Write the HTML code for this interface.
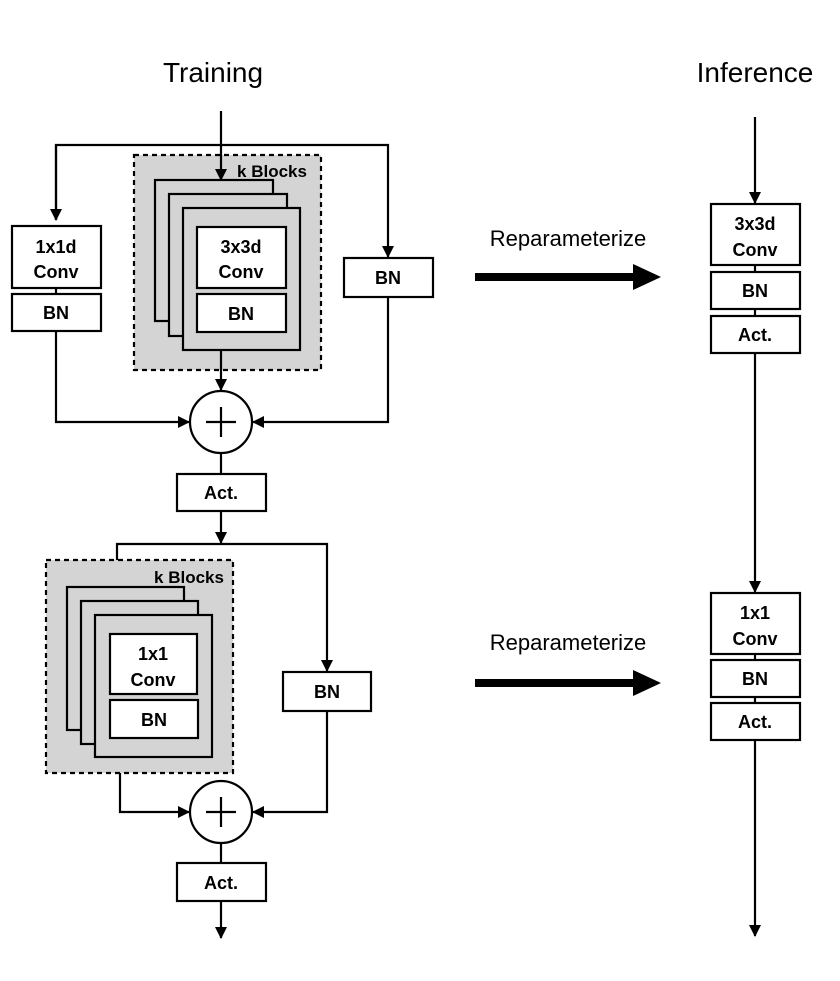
<!DOCTYPE html>
<html><head><style>
body{margin:0;background:#fff}
svg text{font-family:"Liberation Sans",Arial,sans-serif}
.b{font-weight:bold;font-size:18px}
</style></head><body>
<svg width="840" height="976" xmlns="http://www.w3.org/2000/svg">
<defs>
<marker id="a" markerWidth="12" markerHeight="12" refX="11" refY="6" orient="auto" markerUnits="userSpaceOnUse">
<path d="M0,0 L12,6 L0,12 z" fill="#000"/></marker>
</defs>
<g fill="none" stroke="#000" stroke-width="2.2">
<!-- training top -->
<polyline points="56,220 56,145 388,145 388,257" marker-end="url(#a)" fill="none"/>
<line x1="56" y1="145" x2="56" y2="220" marker-end="url(#a)"/>
<rect x="134" y="155" width="187" height="215" fill="#d4d4d4" stroke-dasharray="5,4"/>
<line x1="221" y1="111" x2="221" y2="180" marker-end="url(#a)"/>
<rect x="155" y="180" width="118" height="141" fill="#d4d4d4"/>
<rect x="169" y="194" width="118" height="142" fill="#d4d4d4"/>
<rect x="183" y="208" width="117" height="142" fill="#d4d4d4"/>
<rect x="197" y="227" width="89" height="61" fill="#fff"/>
<rect x="197" y="294" width="89" height="38" fill="#fff"/>
<rect x="12" y="226" width="89" height="62" fill="#fff"/>
<rect x="12" y="294" width="89" height="37" fill="#fff"/>
<line x1="56" y1="288" x2="56" y2="294"/>
<rect x="344" y="258" width="89" height="39" fill="#fff"/>
<line x1="221" y1="350" x2="221" y2="390" marker-end="url(#a)"/>
<circle cx="221" cy="422" r="31" fill="#fff"/>
<line x1="206" y1="422" x2="236" y2="422"/><line x1="221" y1="407" x2="221" y2="437"/>
<polyline points="56,331 56,422 189,422" marker-end="url(#a)"/>
<polyline points="388,297 388,422 253,422" marker-end="url(#a)"/>
<line x1="221" y1="453" x2="221" y2="474"/>
<rect x="177" y="474" width="89" height="37" fill="#fff"/>
<!-- training bottom -->
<line x1="221" y1="511" x2="221" y2="543" marker-end="url(#a)"/>
<polyline points="117,560 117,544 327,544 327,671" marker-end="url(#a)"/>
<rect x="46" y="560" width="187" height="213" fill="#d4d4d4" stroke-dasharray="5,4"/>
<rect x="67" y="587" width="117" height="143" fill="#d4d4d4"/>
<rect x="81" y="601" width="117" height="143" fill="#d4d4d4"/>
<rect x="95" y="615" width="117" height="142" fill="#d4d4d4"/>
<rect x="110" y="634" width="87" height="60" fill="#fff"/>
<rect x="110" y="700" width="88" height="38" fill="#fff"/>
<rect x="283" y="672" width="88" height="39" fill="#fff"/>
<circle cx="221" cy="812" r="31" fill="#fff"/>
<line x1="206" y1="812" x2="236" y2="812"/><line x1="221" y1="797" x2="221" y2="827"/>
<polyline points="120,773 120,812 189,812" marker-end="url(#a)"/>
<polyline points="327,711 327,812 253,812" marker-end="url(#a)"/>
<line x1="221" y1="843" x2="221" y2="863"/>
<rect x="177" y="863" width="89" height="38" fill="#fff"/>
<line x1="221" y1="901" x2="221" y2="938" marker-end="url(#a)"/>
<!-- inference -->
<line x1="755" y1="117" x2="755" y2="203" marker-end="url(#a)"/>
<rect x="711" y="204" width="89" height="61" fill="#fff"/>
<rect x="711" y="272" width="89" height="37" fill="#fff"/>
<rect x="711" y="316" width="89" height="37" fill="#fff"/>
<line x1="755" y1="265" x2="755" y2="272"/><line x1="755" y1="309" x2="755" y2="316"/>
<line x1="755" y1="353" x2="755" y2="592" marker-end="url(#a)"/>
<rect x="711" y="593" width="89" height="61" fill="#fff"/>
<rect x="711" y="660" width="89" height="37" fill="#fff"/>
<rect x="711" y="703" width="89" height="37" fill="#fff"/>
<line x1="755" y1="654" x2="755" y2="660"/><line x1="755" y1="697" x2="755" y2="703"/>
<line x1="755" y1="740" x2="755" y2="936" marker-end="url(#a)"/>
</g>
<!-- thick arrows -->
<rect x="475" y="273" width="160" height="8" fill="#000"/>
<path d="M633,264 L661,277 L633,290 z" fill="#000"/>
<rect x="475" y="679" width="160" height="8" fill="#000"/>
<path d="M633,670 L661,683 L633,696 z" fill="#000"/>
<g text-anchor="middle">
<text x="213" y="82" font-size="28">Training</text>
<text x="755" y="82" font-size="28">Inference</text>
<text x="568" y="246" font-size="22">Reparameterize</text>
<text x="568" y="650" font-size="22">Reparameterize</text>
<g class="b">
<text x="272" y="177" font-size="17">k Blocks</text>
<text x="189" y="583" font-size="17">k Blocks</text>
<text x="56" y="253">1x1d</text><text x="56" y="278">Conv</text>
<text x="56" y="319">BN</text>
<text x="241" y="253">3x3d</text><text x="241" y="278">Conv</text>
<text x="241" y="320">BN</text>
<text x="388" y="284">BN</text>
<text x="221" y="499">Act.</text>
<text x="153" y="660">1x1</text><text x="153" y="686">Conv</text>
<text x="154" y="726">BN</text>
<text x="327" y="698">BN</text>
<text x="221" y="889">Act.</text>
<text x="755" y="230">3x3d</text><text x="755" y="256">Conv</text>
<text x="755" y="297">BN</text>
<text x="755" y="341">Act.</text>
<text x="755" y="619">1x1</text><text x="755" y="645">Conv</text>
<text x="755" y="685">BN</text>
<text x="755" y="728">Act.</text>
</g></g>
</svg>
</body></html>
